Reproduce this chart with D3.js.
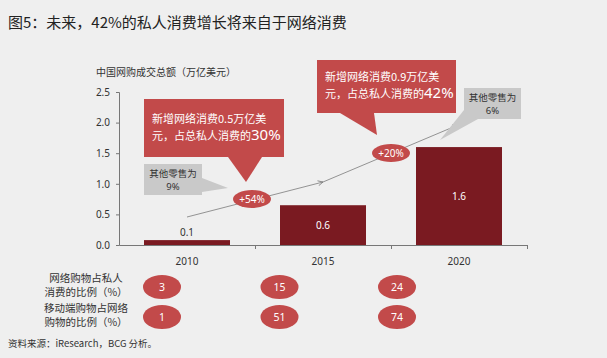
<!DOCTYPE html>
<html>
<head>
<meta charset="utf-8">
<script src="https://cdn.jsdelivr.net/npm/d3@7"></script>
<style>
  body { margin: 0; background: #efefef; }
  svg { display: block; font-family: "Noto Sans CJK SC", "Noto Sans", sans-serif; }
</style>
</head>
<body>
<div id="chart"></div>
<script>
// données
const years = ['2010', '2015', '2020'];
const values = [0.08, 0.65, 1.6];
const valueLabels = ['0.1', '0.6', '1.6'];
const yTicks = [0, 0.5, 1.0, 1.5, 2.0, 2.5];
const shareOnline = [3, 15, 24];
const shareMobile = [1, 51, 74];
const growthLabels = ['+54%', '+20%'];
const rowLabels = [['网络购物占私人', '消费的比例（%）'], ['移动端购物占网络', '购物的比例（%）']];

const width = 607, height = 358;
const red = '#c24a4a', dark = '#7a1a21', grey = '#c9c9c9';

const svg = d3.select('#chart').append('svg')
  .attr('width', width).attr('height', height);

svg.append('rect').attr('width', width).attr('height', height).attr('fill', '#efefef');

// titre
svg.append('text').attr('x', 8).attr('y', 28)
  .attr('font-size', '15px').attr('fill', '#222')
  .text('图5：未来，42%的私人消费增长将来自于网络消费');

// échelles
const x = d3.scaleBand().domain(years).range([119, 527]).paddingInner(0).paddingOuter(0);
const y = d3.scaleLinear().domain([0, 2.5]).range([245, 92]);
const barPad = 25;

// axe y
const yAxis = svg.append('g').attr('transform', 'translate(119,0)')
  .call(d3.axisLeft(y).tickValues(yTicks).tickFormat(d3.format('.1f')).tickSize(3).tickPadding(6));
yAxis.select('.domain').attr('stroke', '#777');
yAxis.selectAll('line').attr('stroke', '#777');
yAxis.selectAll('text').attr('font-size', '10px').attr('fill', '#333')
  .attr('font-family', '"Noto Sans", sans-serif');

svg.append('text').attr('x', 96).attr('y', 76)
  .attr('font-size', '10px').attr('fill', '#333')
  .text('中国网购成交总额（万亿美元）');

// axe x (graduations aux bords des bandes)
const xEdges = d3.scaleLinear().domain([0, years.length]).range(x.range());
const xAxis = svg.append('g').attr('transform', 'translate(0,245)')
  .call(d3.axisBottom(xEdges).tickValues([1, 2, 3]).tickFormat('').tickSize(4).tickSizeOuter(0));
xAxis.select('.domain').attr('stroke', '#777');
xAxis.selectAll('line').attr('stroke', '#777');

svg.selectAll('text.year').data(years).enter().append('text')
  .attr('class', 'year')
  .attr('x', d => x(d) + x.bandwidth() / 2).attr('y', 265)
  .attr('text-anchor', 'middle').attr('font-size', '10px').attr('fill', '#333')
  .attr('font-family', '"Noto Sans", sans-serif')
  .text(d => d);

// barres
svg.selectAll('rect.bar').data(values).enter().append('rect')
  .attr('class', 'bar')
  .attr('x', (d, i) => x(years[i]) + barPad)
  .attr('y', d => y(d))
  .attr('width', x.bandwidth() - 2 * barPad)
  .attr('height', d => y(0) - y(d))
  .attr('fill', dark);

svg.selectAll('text.val').data(values).enter().append('text')
  .attr('class', 'val')
  .attr('x', (d, i) => x(years[i]) + x.bandwidth() / 2)
  .attr('y', (d, i) => i === 0 ? y(d) - 4 : (y(d) + y(0)) / 2 + 4)
  .attr('text-anchor', 'middle').attr('font-size', '10px')
  .attr('font-family', '"Noto Sans", sans-serif')
  .attr('fill', (d, i) => i === 0 ? '#333' : '#fff')
  .text((d, i) => valueLabels[i]);

// flèche de croissance
const arrowPts = [[187, 217], [323, 182], [458, 125]];
svg.append('defs').append('marker')
  .attr('id', 'ah').attr('viewBox', '0 0 10 10').attr('refX', 9).attr('refY', 5)
  .attr('markerWidth', 7).attr('markerHeight', 7).attr('orient', 'auto')
  .append('path').attr('d', 'M1,1 L9,5 L1,9').attr('fill', 'none').attr('stroke', '#777').attr('stroke-width', 1.2);
const line = d3.line().curve(d3.curveNatural);
svg.append('path').attr('d', line(arrowPts.slice(0, 2)))
  .attr('fill', 'none').attr('stroke', '#888').attr('stroke-width', 0.9).attr('marker-end', 'url(#ah)');
svg.append('path').attr('d', line(arrowPts.slice(1)))
  .attr('fill', 'none').attr('stroke', '#888').attr('stroke-width', 0.9).attr('marker-end', 'url(#ah)');

// bulles rouges
const callouts = [
  { box: [144, 99, 140, 58], tail: [[228, 157], [262, 157], [246, 182]], lines: ['新增网络消费0.5万亿美', '元，占总私人消费的'], pct: '30%', ty: 123 },
  { box: [317, 60, 139, 53], tail: [[340, 113], [374, 113], [377, 135]], lines: ['新增网络消费0.9万亿美', '元，占总私人消费的'], pct: '42%', ty: 81 }
];
callouts.forEach(c => {
  svg.append('rect').attr('x', c.box[0]).attr('y', c.box[1]).attr('width', c.box[2]).attr('height', c.box[3]).attr('fill', red);
  svg.append('path').attr('d', 'M' + c.tail.join('L') + 'Z').attr('fill', red);
  svg.append('text').attr('x', c.box[0] + 8).attr('y', c.ty)
    .attr('font-size', '11px').attr('fill', '#fff').text(c.lines[0]);
  const t = svg.append('text').attr('x', c.box[0] + 8).attr('y', c.ty + 17)
    .attr('font-size', '11px').attr('fill', '#fff').text(c.lines[1]);
  t.append('tspan').attr('font-size', '15px').attr('font-family', '"Noto Sans", sans-serif').text(c.pct);
});

// bulles grises
const greyNotes = [
  { box: [144, 164, 58, 31], tail: [[202, 178], [202, 192], [228, 188]], lines: ['其他零售为', '9%'] },
  { box: [464, 88, 57, 31], tail: [[464, 110], [478, 119], [440, 140]], lines: ['其他零售为', '6%'] }
];
greyNotes.forEach(g => {
  svg.append('rect').attr('x', g.box[0]).attr('y', g.box[1]).attr('width', g.box[2]).attr('height', g.box[3]).attr('fill', grey);
  svg.append('path').attr('d', 'M' + g.tail.join('L') + 'Z').attr('fill', grey);
  g.lines.forEach((l, i) => {
    svg.append('text').attr('x', g.box[0] + g.box[2] / 2).attr('y', g.box[1] + 13 + i * 13)
      .attr('text-anchor', 'middle').attr('font-size', '9.5px').attr('fill', '#333')
      .attr('font-family', i === 1 ? '"Noto Sans", sans-serif' : null).text(l);
  });
});

// ellipses de croissance
const growthPos = [[252, 199], [391, 153]];
growthPos.forEach((p, i) => {
  svg.append('ellipse').attr('cx', p[0]).attr('cy', p[1]).attr('rx', 19).attr('ry', 9).attr('fill', red);
  svg.append('text').attr('x', p[0]).attr('y', p[1] + 4).attr('text-anchor', 'middle')
    .attr('font-size', '10px').attr('fill', '#fff').attr('font-family', '"Noto Sans", sans-serif')
    .text(growthLabels[i]);
});

// tableau du bas
const colX = d3.scalePoint().domain(years).range([162, 397]);
const rows = [shareOnline, shareMobile];
const rowY = [287, 317];
rows.forEach((r, ri) => {
  rowLabels[ri].forEach((l, li) => {
    svg.append('text').attr('x', 86).attr('y', rowY[ri] - 5 + li * 14)
      .attr('text-anchor', 'middle').attr('font-size', '10.5px').attr('fill', '#333').text(l);
  });
  r.forEach((v, ci) => {
    svg.append('ellipse').attr('cx', colX(years[ci])).attr('cy', rowY[ri]).attr('rx', 19).attr('ry', 12).attr('fill', red);
    svg.append('text').attr('x', colX(years[ci])).attr('y', rowY[ri] + 4).attr('text-anchor', 'middle')
      .attr('font-size', '10.5px').attr('fill', '#fff').attr('font-family', '"Noto Sans", sans-serif').text(v);
  });
});

svg.append('text').attr('x', 8).attr('y', 347)
  .attr('font-size', '9.5px').attr('fill', '#333')
  .text('资料来源：iResearch，BCG 分析。');
</script>
</body>
</html>
